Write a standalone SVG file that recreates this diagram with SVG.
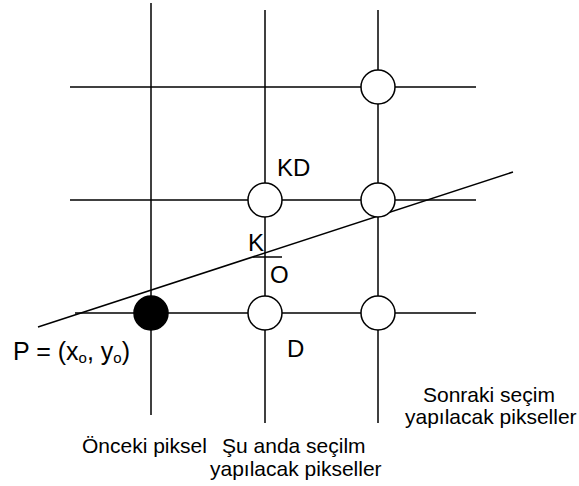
<svg xmlns="http://www.w3.org/2000/svg" width="579" height="486" viewBox="0 0 579 486">
<style>
.ln{stroke:#000;stroke-width:1.5;fill:none}
.px{stroke:#000;stroke-width:1.5;fill:#fff}
.pf{stroke:#000;stroke-width:1.5;fill:#000}
text{font-family:"Liberation Sans",Arial,sans-serif;fill:#000}
.lb{font-size:24px}
.sm{font-size:21px}
</style>
<rect width="579" height="486" fill="#fff"/>
<g id="grid">
<line class="ln" x1="151" y1="3" x2="151" y2="415"/>
<line class="ln" x1="265" y1="10" x2="265" y2="423"/>
<line class="ln" x1="378" y1="10" x2="378" y2="423"/>
<line class="ln" x1="70" y1="87" x2="476" y2="87"/>
<line class="ln" x1="70" y1="200" x2="476" y2="200"/>
<line class="ln" x1="75" y1="313" x2="476" y2="313"/>
</g>
<g id="connectors">
<line class="ln" x1="38" y1="327" x2="513" y2="172"/>
<line class="ln" x1="253" y1="257" x2="282" y2="257"/>
</g>
<g id="prev"><circle class="pf" cx="151" cy="313" r="17"/></g>
<g id="kd"><circle class="px" cx="265" cy="200" r="17"/></g>
<g id="d"><circle class="px" cx="265" cy="313" r="17"/></g>
<g id="n1"><circle class="px" cx="378" cy="87" r="17"/></g>
<g id="n2"><circle class="px" cx="378" cy="200" r="17"/></g>
<g id="n3"><circle class="px" cx="378" cy="313" r="17"/></g>
<g id="labels">
<text class="lb" x="277" y="176">KD</text>
<text class="lb" x="248" y="251">K</text>
<text class="lb" x="270" y="283">O</text>
<text class="lb" x="287" y="357">D</text>
<text x="13" y="360" font-size="25">P = (x<tspan font-size="15" dy="3">o</tspan><tspan dy="-3">, y</tspan><tspan font-size="15" dy="3">o</tspan><tspan dy="-3">)</tspan></text>
<text class="sm" x="82" y="453">Önceki piksel</text>
<text class="sm" x="222" y="453">Şu anda seçilm</text>
<text class="sm" x="210" y="476">yapılacak pikseller</text>
<text class="sm" x="423" y="402">Sonraki seçim</text>
<text class="sm" x="405" y="424">yapılacak pikseller</text>
</g>
</svg>
